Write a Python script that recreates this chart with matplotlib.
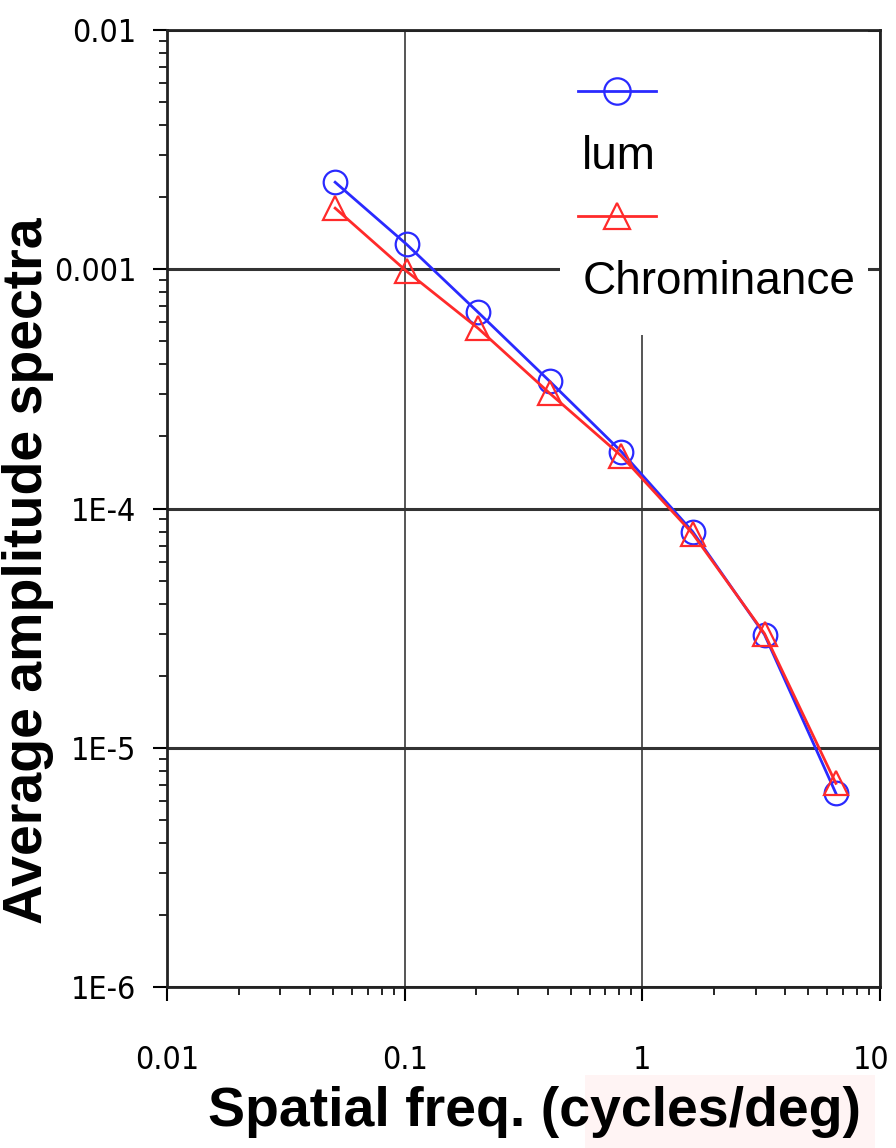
"""Average amplitude spectra vs spatial frequency (log-log)."""

import matplotlib
matplotlib.use("Agg")
import matplotlib.pyplot as plt
import matplotlib.transforms as mtransforms
from matplotlib.lines import Line2D
from matplotlib.ticker import FixedLocator, FixedFormatter, LogLocator, NullFormatter
from matplotlib.patches import Rectangle

# data
freq = [0.051, 0.102, 0.204, 0.408, 0.816, 1.63, 3.27, 6.53]
lum = [0.00231, 0.00127, 0.00066, 0.00034, 0.000173, 8.0e-5, 2.97e-5, 6.45e-6]
chrom = [0.0018, 0.00098, 0.000566, 0.000303, 0.000166, 7.85e-5, 3.0e-5, 7.1e-6]

x_ticks = [0.01, 0.1, 1, 10]
x_tick_labels = ["0.01", "0.1", "1", "10"]
y_ticks = [1e-6, 1e-5, 1e-4, 1e-3, 1e-2]
y_tick_labels = ["1E-6", "1E-5", "1E-4", "0.001", "0.01"]

BLUE = "#2a2aff"
RED = "#ff2a2a"
NARROW = ["DejaVu Sans"]
BOLD = ["Liberation Sans", "DejaVu Sans"]

fig = plt.figure(figsize=(8.96, 11.48), dpi=100)
fig.patch.set_facecolor("white")
ax = fig.add_axes([0.1864, 0.1402, 0.7956, 0.8337])

ax.set_xscale("log")
ax.set_yscale("log")
ax.set_xlim(0.01, 10)
ax.set_ylim(1e-6, 1e-2)

ax.plot(freq, lum, color=BLUE, lw=2, marker="o", ms=17, mfc="none",
        mec=BLUE, mew=1.6, zorder=3)
ax.plot(freq, chrom, color=RED, lw=2, marker="^", ms=17, mfc="none",
        mec=RED, mew=1.6, zorder=4)

ax.xaxis.grid(True, which="major", color="#555555", lw=1.4)
ax.yaxis.grid(True, which="major", color="#333333", lw=2.2)
ax.set_axisbelow(True)
for s in ax.spines.values():
    s.set_linewidth(2)
    s.set_color("#222222")

ax.xaxis.set_major_locator(FixedLocator(x_ticks))
ax.xaxis.set_major_formatter(FixedFormatter(x_tick_labels))
ax.yaxis.set_major_locator(FixedLocator(y_ticks))
ax.yaxis.set_major_formatter(FixedFormatter(y_tick_labels))
ax.xaxis.set_minor_locator(LogLocator(base=10, subs=range(2, 10), numticks=20))
ax.yaxis.set_minor_locator(LogLocator(base=10, subs=range(2, 10), numticks=20))
ax.xaxis.set_minor_formatter(NullFormatter())
ax.yaxis.set_minor_formatter(NullFormatter())
ax.tick_params(which="major", direction="out", length=10, width=1.5, pad=32)
ax.tick_params(which="minor", direction="out", length=6, width=1.2)
ax.tick_params(axis="y", which="major", pad=12)
for lab in ax.get_xticklabels() + ax.get_yticklabels():
    lab.set_family(NARROW)
    lab.set_stretch("condensed")
    lab.set_fontsize(23)
# the "10" sits a little inward so it stays on the page
last = ax.get_xticklabels()[-1]
last.set_transform(last.get_transform() +
                   mtransforms.ScaledTranslation(-6 / 72, 0, fig.dpi_scale_trans))

ax.set_xlabel("Spatial freq. (cycles/deg)", family=BOLD, fontweight="bold",
              fontsize=40)
ax.xaxis.set_label_coords(0.515, -0.103)
ax.set_ylabel("Average amplitude spectra", family=BOLD, fontweight="bold",
              fontsize=40)
ax.yaxis.set_label_coords(-0.158, 0.435)

# legend: markers with the text placed underneath, on a white patch over the grid
ax.add_patch(Rectangle((0.551, 0.681), 0.432, 0.319, transform=ax.transAxes,
                       facecolor="white", edgecolor="none", zorder=2))
h_lum = Line2D([], [], color=BLUE, lw=2, marker="o", ms=19, mfc="none",
               mec=BLUE, mew=1.6)
h_chrom = Line2D([], [], color=RED, lw=2, marker="^", ms=19, mfc="none",
                 mec=RED, mew=1.6)
blank = Line2D([], [], color="none")
leg = ax.legend([h_lum, blank, h_chrom, blank], ["", "lum", "", "Chrominance"],
                loc="upper left", bbox_to_anchor=(0.576, 0.955),
                frameon=False, borderpad=0, borderaxespad=0,
                handlelength=1.7, handletextpad=-1.6, labelspacing=0.4,
                prop={"family": BOLD, "size": 33})
leg.set_zorder(5)

# faint pink smudge at lower right of the original image
fig.patches.append(Rectangle((0.653, 0.0), 0.324, 0.064, transform=fig.transFigure,
                             facecolor="#fff4f4", edgecolor="none", zorder=-1))

fig.savefig("out.png", dpi=100)
